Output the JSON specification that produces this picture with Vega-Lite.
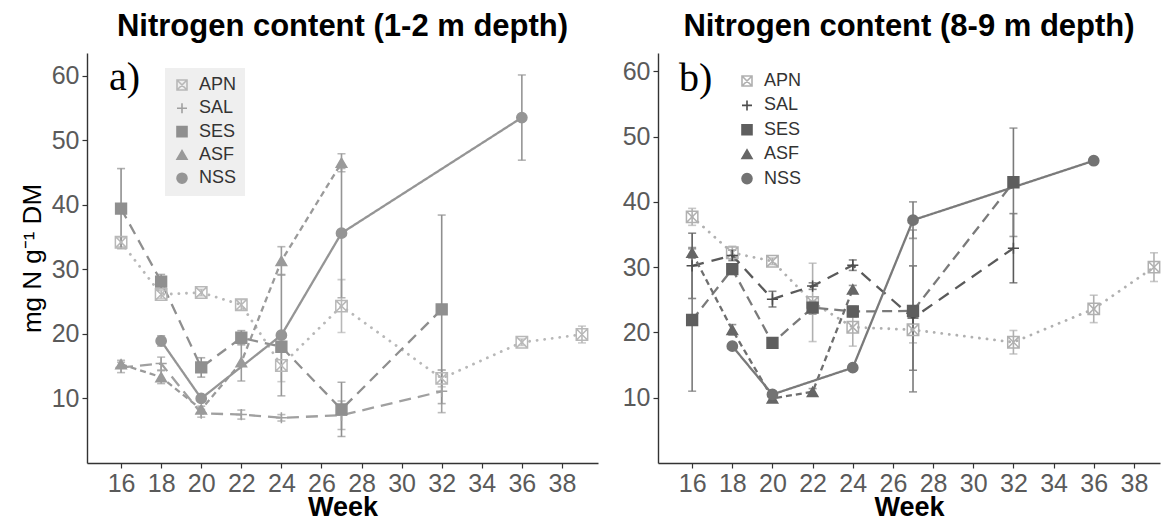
{
 "$schema": "https://vega.github.io/schema/vega-lite/v6.json",
 "padding": {"left": 19, "top": 11, "right": 0, "bottom": 0},
 "spacing": 24,
 "resolve": {"scale": {"color": "independent", "stroke": "independent", "fill": "independent", "shape": "independent", "size": "independent", "strokeDash": "independent"}, "legend": {"shape": "independent", "color": "independent", "stroke": "independent", "fill": "independent", "size": "independent", "strokeDash": "independent"}},
 "config": {
  "view": {"stroke": null},
  "font": "Liberation Sans",
  "axis": {"grid": false, "labelFontSize": 25, "labelColor": "#5a5a5a", "tickColor": "#333333", "tickSize": 5, "domainColor": "#333333", "domainWidth": 1.4, "tickWidth": 1.2, "titleColor": "#000000", "labelPadding": 3, "labelFlush": false}
 },
 "datasets": {
  "obs": [
   {"p":"a","site":"APN","week":16,"N":34.2,"lo":33.5,"hi":34.9},
   {"p":"a","site":"APN","week":18,"N":26.1,"lo":25.5,"hi":26.7},
   {"p":"a","site":"APN","week":20,"N":26.4,"lo":25.9,"hi":26.9},
   {"p":"a","site":"APN","week":22,"N":24.5,"lo":23.7,"hi":25.3},
   {"p":"a","site":"APN","week":24,"N":15.1,"lo":12.6,"hi":17.6},
   {"p":"a","site":"APN","week":27,"N":24.3,"lo":20.2,"hi":28.4},
   {"p":"a","site":"APN","week":32,"N":13.1,"lo":11.8,"hi":14.4},
   {"p":"a","site":"APN","week":36,"N":18.7,"lo":18.2,"hi":19.2},
   {"p":"a","site":"APN","week":39,"N":19.9,"lo":18.6,"hi":21.2},
   {"p":"a","site":"SAL","week":16,"N":14.8,"lo":14.0,"hi":15.6},
   {"p":"a","site":"SAL","week":18,"N":15.4,"lo":14.4,"hi":16.4},
   {"p":"a","site":"SAL","week":20,"N":7.7,"lo":7.1,"hi":8.3},
   {"p":"a","site":"SAL","week":22,"N":7.5,"lo":6.8,"hi":8.2},
   {"p":"a","site":"SAL","week":24,"N":7.0,"lo":6.5,"hi":7.5},
   {"p":"a","site":"SAL","week":27,"N":7.4,"lo":5.2,"hi":9.6},
   {"p":"a","site":"SAL","week":32,"N":11.1,"lo":7.8,"hi":14.4},
   {"p":"a","site":"SES","week":16,"N":39.4,"lo":33.2,"hi":45.6},
   {"p":"a","site":"SES","week":18,"N":28.1,"lo":27.0,"hi":29.2},
   {"p":"a","site":"SES","week":20,"N":14.8,"lo":13.3,"hi":16.3},
   {"p":"a","site":"SES","week":22,"N":19.4,"lo":18.3,"hi":20.5},
   {"p":"a","site":"SES","week":24,"N":18.0,"lo":17.2,"hi":18.8},
   {"p":"a","site":"SES","week":27,"N":8.3,"lo":4.1,"hi":12.5},
   {"p":"a","site":"SES","week":32,"N":23.8,"lo":9.2,"hi":38.4},
   {"p":"a","site":"ASF","week":16,"N":15.3,"lo":14.7,"hi":15.9},
   {"p":"a","site":"ASF","week":18,"N":13.3,"lo":12.3,"hi":14.3},
   {"p":"a","site":"ASF","week":20,"N":8.3,"lo":7.8,"hi":8.8},
   {"p":"a","site":"ASF","week":22,"N":15.6,"lo":12.7,"hi":18.5},
   {"p":"a","site":"ASF","week":24,"N":31.3,"lo":29.1,"hi":33.5},
   {"p":"a","site":"ASF","week":27,"N":46.5,"lo":45.1,"hi":47.9},
   {"p":"a","site":"NSS","week":18,"N":18.9,"lo":18.1,"hi":19.7},
   {"p":"a","site":"NSS","week":20,"N":10.0,"lo":9.5,"hi":10.5},
   {"p":"a","site":"NSS","week":24,"N":19.8,"lo":10.4,"hi":29.2},
   {"p":"a","site":"NSS","week":27,"N":35.6,"lo":25.6,"hi":45.6},
   {"p":"a","site":"NSS","week":36,"N":53.5,"lo":46.9,"hi":60.1},
   {"p":"b","site":"APN","week":16,"N":37.7,"lo":36.4,"hi":39.0},
   {"p":"b","site":"APN","week":18,"N":32.2,"lo":31.2,"hi":33.2},
   {"p":"b","site":"APN","week":20,"N":30.9,"lo":30.4,"hi":31.4},
   {"p":"b","site":"APN","week":22,"N":24.6,"lo":18.6,"hi":30.6},
   {"p":"b","site":"APN","week":24,"N":20.8,"lo":17.9,"hi":23.7},
   {"p":"b","site":"APN","week":27,"N":20.4,"lo":18.4,"hi":22.4},
   {"p":"b","site":"APN","week":32,"N":18.5,"lo":16.7,"hi":20.3},
   {"p":"b","site":"APN","week":36,"N":23.6,"lo":21.5,"hi":25.7},
   {"p":"b","site":"APN","week":39,"N":30.0,"lo":27.8,"hi":32.2},
   {"p":"b","site":"SAL","week":16,"N":30.2,"lo":25.2,"hi":35.2},
   {"p":"b","site":"SAL","week":18,"N":31.8,"lo":31.0,"hi":32.6},
   {"p":"b","site":"SAL","week":20,"N":25.1,"lo":23.9,"hi":26.3},
   {"p":"b","site":"SAL","week":22,"N":27.1,"lo":26.6,"hi":27.6},
   {"p":"b","site":"SAL","week":24,"N":30.3,"lo":29.5,"hi":31.1},
   {"p":"b","site":"SAL","week":27,"N":22.2,"lo":14.2,"hi":30.2},
   {"p":"b","site":"SAL","week":32,"N":32.9,"lo":27.6,"hi":38.2},
   {"p":"b","site":"SES","week":16,"N":21.9,"lo":11.0,"hi":32.8},
   {"p":"b","site":"SES","week":18,"N":29.7,"lo":28.9,"hi":30.5},
   {"p":"b","site":"SES","week":20,"N":18.4,"lo":18.0,"hi":18.8},
   {"p":"b","site":"SES","week":22,"N":23.8,"lo":22.8,"hi":24.8},
   {"p":"b","site":"SES","week":24,"N":23.2,"lo":22.4,"hi":24.0},
   {"p":"b","site":"SES","week":27,"N":23.3,"lo":10.9,"hi":35.7},
   {"p":"b","site":"SES","week":32,"N":43.0,"lo":34.7,"hi":51.3},
   {"p":"b","site":"ASF","week":16,"N":32.2,"lo":31.4,"hi":33.0},
   {"p":"b","site":"ASF","week":18,"N":20.4,"lo":19.6,"hi":21.2},
   {"p":"b","site":"ASF","week":20,"N":9.9,"lo":9.6,"hi":10.2},
   {"p":"b","site":"ASF","week":22,"N":10.9,"lo":10.4,"hi":11.4},
   {"p":"b","site":"ASF","week":24,"N":26.6,"lo":26.0,"hi":27.2},
   {"p":"b","site":"NSS","week":18,"N":17.9,"lo":17.5,"hi":18.3},
   {"p":"b","site":"NSS","week":20,"N":10.5,"lo":10.2,"hi":10.8},
   {"p":"b","site":"NSS","week":24,"N":14.6,"lo":14.3,"hi":14.9},
   {"p":"b","site":"NSS","week":27,"N":37.2,"lo":34.4,"hi":40.0},
   {"p":"b","site":"NSS","week":36,"N":46.3,"lo":null,"hi":null}
  ]
 },
 "hconcat": [
  {
   "width": 511, "height": 410,
   "title": {"text": "Nitrogen content (1-2 m depth)", "fontSize": 31, "fontWeight": "bold", "color": "#000000", "anchor": "middle", "offset": 10},
   "layer": [
    {"data": {"name": "obs"}, "transform": [{"filter": "datum.p === 'a' && datum.lo != null"}],
     "mark": {"type": "errorbar", "thickness": 1.6, "ticks": {"size": 8}},
     "encoding": {
      "x": {"field": "week", "type": "quantitative", "scale": {"domain": [14.3, 39.8], "nice": false, "zero": false}, "axis": {"title": "Week", "values": [16,18,20,22,24,26,28,30,32,34,36,38], "titleFontSize": 27, "titleFontWeight": "bold", "titlePadding": -2}},
      "y": {"field": "lo", "type": "quantitative", "scale": {"domain": [0, 63.5], "nice": false, "zero": false}, "axis": {"title": "mg N g⁻¹ DM", "values": [10,20,30,40,50,60], "titleFontSize": 26, "titleFontWeight": "normal", "titlePadding": 6}},
      "y2": {"field": "hi"},
      "color": {"field": "site", "type": "nominal", "scale": {"domain": ["NSS","ASF","SES","SAL","APN"], "range": ["#959595","#9a9a9a","#8f8f8f","#a0a0a0","#b8b8b8"]}, "legend": null}
     }},
    {"data": {"name": "obs"}, "transform": [{"filter": "datum.p === 'a' && datum.site === 'APN'"}],
     "mark": {"type": "line", "strokeWidth": 2.8, "strokeCap": "round", "strokeDash": [0.1, 7.5]},
     "encoding": {
      "x": {"field": "week", "type": "quantitative", "scale": {"domain": [14.3, 39.8], "nice": false, "zero": false}, "axis": {"title": "Week", "values": [16,18,20,22,24,26,28,30,32,34,36,38], "titleFontSize": 27, "titleFontWeight": "bold", "titlePadding": -2}},
      "y": {"field": "N", "type": "quantitative", "scale": {"domain": [0, 63.5], "nice": false, "zero": false}, "axis": {"title": "mg N g⁻¹ DM", "values": [10,20,30,40,50,60], "titleFontSize": 26, "titleFontWeight": "normal", "titlePadding": 6}},
      "color": {"field": "site", "type": "nominal", "scale": {"domain": ["NSS","ASF","SES","SAL","APN"], "range": ["#959595","#9a9a9a","#8f8f8f","#a0a0a0","#b8b8b8"]}, "legend": null}
     }},
    {"data": {"name": "obs"}, "transform": [{"filter": "datum.p === 'a' && datum.site !== 'APN'"}],
     "mark": {"type": "line", "strokeWidth": 2.3},
     "encoding": {
      "x": {"field": "week", "type": "quantitative", "scale": {"domain": [14.3, 39.8], "nice": false, "zero": false}, "axis": {"title": "Week", "values": [16,18,20,22,24,26,28,30,32,34,36,38], "titleFontSize": 27, "titleFontWeight": "bold", "titlePadding": -2}},
      "y": {"field": "N", "type": "quantitative", "scale": {"domain": [0, 63.5], "nice": false, "zero": false}, "axis": {"title": "mg N g⁻¹ DM", "values": [10,20,30,40,50,60], "titleFontSize": 26, "titleFontWeight": "normal", "titlePadding": 6}},
      "color": {"field": "site", "type": "nominal", "scale": {"domain": ["NSS","ASF","SES","SAL","APN"], "range": ["#959595","#9a9a9a","#8f8f8f","#a0a0a0","#b8b8b8"]}, "legend": null},
      "strokeDash": {"field": "site", "type": "nominal", "scale": {"domain": ["NSS","ASF","SES","SAL","APN"], "range": [[1,0],[6,4],[11,7],[12,7],[1,6]]}, "legend": null}
     }},
    {"data": {"name": "obs"}, "transform": [{"filter": "datum.p === 'a'"}],
     "mark": {"type": "point", "strokeWidth": 1.5, "opacity": 1},
     "encoding": {
      "x": {"field": "week", "type": "quantitative", "scale": {"domain": [14.3, 39.8], "nice": false, "zero": false}, "axis": {"title": "Week", "values": [16,18,20,22,24,26,28,30,32,34,36,38], "titleFontSize": 27, "titleFontWeight": "bold", "titlePadding": -2}},
      "y": {"field": "N", "type": "quantitative", "scale": {"domain": [0, 63.5], "nice": false, "zero": false}, "axis": {"title": "mg N g⁻¹ DM", "values": [10,20,30,40,50,60], "titleFontSize": 26, "titleFontWeight": "normal", "titlePadding": 6}},
      "shape": {"field": "site", "type": "nominal", "scale": {"domain": ["APN","SAL","SES","ASF","NSS"], "range": ["M-1,-1H1V1H-1ZM-1,-1L1,1M1,-1L-1,1", "M-1,0H1M0,-1V1", "square", "triangle-up", "circle"]},
       "legend": {"orient": "none", "legendX": 78, "legendY": 15, "title": null, "padding": 8, "fillColor": "#efefef", "labelFontSize": 18, "labelColor": "#333333", "labelOffset": 8, "rowPadding": 5.3, "symbolSize": 100, "symbolStrokeWidth": 1.6, "symbolOpacity": 1}},
      "stroke": {"field": "site", "type": "nominal", "scale": {"domain": ["APN","SAL","SES","ASF","NSS"], "range": ["#b8b8b8","#a0a0a0","#8f8f8f","#9a9a9a","#959595"]}},
      "fill": {"field": "site", "type": "nominal", "scale": {"domain": ["APN","SAL","SES","ASF","NSS"], "range": ["transparent","transparent","#8f8f8f","#9a9a9a","#959595"]}},
      "size": {"field": "site", "type": "nominal", "scale": {"domain": ["NSS","ASF","SES","SAL","APN"], "range": [105, 130, 125, 225, 121]}, "legend": null}
     }},
    {"data": {"values": [{"label": "a)", "week": 15.4, "N": 57.8}]},
     "mark": {"type": "text", "font": "Liberation Serif", "fontSize": 40, "align": "left", "baseline": "alphabetic", "color": "#000000"},
     "encoding": {
      "x": {"field": "week", "type": "quantitative", "axis": {"title": "Week", "values": [16,18,20,22,24,26,28,30,32,34,36,38], "titleFontSize": 27, "titleFontWeight": "bold", "titlePadding": -2}},
      "y": {"field": "N", "type": "quantitative", "axis": {"title": "mg N g⁻¹ DM", "values": [10,20,30,40,50,60], "titleFontSize": 26, "titleFontWeight": "normal", "titlePadding": 6}},
      "text": {"field": "label"}
     }}
   ]
  },
  {
   "width": 502, "height": 410,
   "title": {"text": "Nitrogen content (8-9 m depth)", "fontSize": 31, "fontWeight": "bold", "color": "#000000", "anchor": "middle", "offset": 10},
   "layer": [
    {"data": {"name": "obs"}, "transform": [{"filter": "datum.p === 'b' && datum.lo != null"}],
     "mark": {"type": "errorbar", "thickness": 1.6, "ticks": {"size": 8}},
     "encoding": {
      "x": {"field": "week", "type": "quantitative", "scale": {"domain": [14.3, 39.3], "nice": false, "zero": false}, "axis": {"title": "Week", "values": [16,18,20,22,24,26,28,30,32,34,36,38], "titleFontSize": 27, "titleFontWeight": "bold", "titlePadding": -2}},
      "y": {"field": "lo", "type": "quantitative", "scale": {"domain": [0, 62.8], "nice": false, "zero": false}, "axis": {"title": null, "values": [10,20,30,40,50,60]}},
      "y2": {"field": "hi"},
      "color": {"field": "site", "type": "nominal", "scale": {"domain": ["NSS","ASF","SES","SAL","APN"], "range": ["#7a7a7a","#6e6e6e","#7a7a7a","#5a5a5a","#b0b0b0"]}, "legend": null}
     }},
    {"data": {"name": "obs"}, "transform": [{"filter": "datum.p === 'b' && datum.site === 'APN'"}],
     "mark": {"type": "line", "strokeWidth": 2.8, "strokeCap": "round", "strokeDash": [0.1, 7.5], "stroke": "#b0b0b0"},
     "encoding": {
      "x": {"field": "week", "type": "quantitative", "scale": {"domain": [14.3, 39.3], "nice": false, "zero": false}, "axis": {"title": "Week", "values": [16,18,20,22,24,26,28,30,32,34,36,38], "titleFontSize": 27, "titleFontWeight": "bold", "titlePadding": -2}},
      "y": {"field": "N", "type": "quantitative", "scale": {"domain": [0, 62.8], "nice": false, "zero": false}, "axis": {"title": null, "values": [10,20,30,40,50,60]}}
     }},
    {"data": {"name": "obs"}, "transform": [{"filter": "datum.p === 'b' && datum.site !== 'APN'"}],
     "mark": {"type": "line", "strokeWidth": 2.3},
     "encoding": {
      "x": {"field": "week", "type": "quantitative", "scale": {"domain": [14.3, 39.3], "nice": false, "zero": false}, "axis": {"title": "Week", "values": [16,18,20,22,24,26,28,30,32,34,36,38], "titleFontSize": 27, "titleFontWeight": "bold", "titlePadding": -2}},
      "y": {"field": "N", "type": "quantitative", "scale": {"domain": [0, 62.8], "nice": false, "zero": false}, "axis": {"title": null, "values": [10,20,30,40,50,60]}},
      "color": {"field": "site", "type": "nominal", "scale": {"domain": ["NSS","ASF","SES","SAL","APN"], "range": ["#737373","#666666","#5e5e5e","#4d4d4d","#b0b0b0"]}, "legend": null},
      "strokeDash": {"field": "site", "type": "nominal", "scale": {"domain": ["NSS","ASF","SES","SAL","APN"], "range": [[1,0],[6,4],[10,6],[12,8],[1,6]]}, "legend": null}
     }},
    {"data": {"name": "obs"}, "transform": [{"filter": "datum.p === 'b'"}],
     "mark": {"type": "point", "strokeWidth": 1.5, "opacity": 1},
     "encoding": {
      "x": {"field": "week", "type": "quantitative", "scale": {"domain": [14.3, 39.3], "nice": false, "zero": false}, "axis": {"title": "Week", "values": [16,18,20,22,24,26,28,30,32,34,36,38], "titleFontSize": 27, "titleFontWeight": "bold", "titlePadding": -2}},
      "y": {"field": "N", "type": "quantitative", "scale": {"domain": [0, 62.8], "nice": false, "zero": false}, "axis": {"title": null, "values": [10,20,30,40,50,60]}},
      "shape": {"field": "site", "type": "nominal", "scale": {"domain": ["APN","SAL","SES","ASF","NSS"], "range": ["M-1,-1H1V1H-1ZM-1,-1L1,1M1,-1L-1,1", "M-1,0H1M0,-1V1", "square", "triangle-up", "circle"]},
       "legend": {"orient": "none", "legendX": 73, "legendY": 12, "title": null, "padding": 7, "labelFontSize": 18, "labelColor": "#333333", "labelOffset": 8, "rowPadding": 6.4, "symbolSize": 100, "symbolStrokeWidth": 1.6, "symbolOpacity": 1}},
      "stroke": {"field": "site", "type": "nominal", "scale": {"domain": ["APN","SAL","SES","ASF","NSS"], "range": ["#b0b0b0","#4d4d4d","#5e5e5e","#666666","#737373"]}},
      "fill": {"field": "site", "type": "nominal", "scale": {"domain": ["APN","SAL","SES","ASF","NSS"], "range": ["transparent","transparent","#5e5e5e","#666666","#737373"]}},
      "size": {"field": "site", "type": "nominal", "scale": {"domain": ["NSS","ASF","SES","SAL","APN"], "range": [105, 130, 125, 225, 121]}, "legend": null}
     }},
    {"data": {"values": [{"label": "b)", "week": 15.35, "N": 57.0}]},
     "mark": {"type": "text", "font": "Liberation Serif", "fontSize": 40, "align": "left", "baseline": "alphabetic", "color": "#000000"},
     "encoding": {
      "x": {"field": "week", "type": "quantitative", "axis": {"title": "Week", "values": [16,18,20,22,24,26,28,30,32,34,36,38], "titleFontSize": 27, "titleFontWeight": "bold", "titlePadding": -2}},
      "y": {"field": "N", "type": "quantitative", "axis": {"title": null, "values": [10,20,30,40,50,60]}},
      "text": {"field": "label"}
     }}
   ]
  }
 ]
}
